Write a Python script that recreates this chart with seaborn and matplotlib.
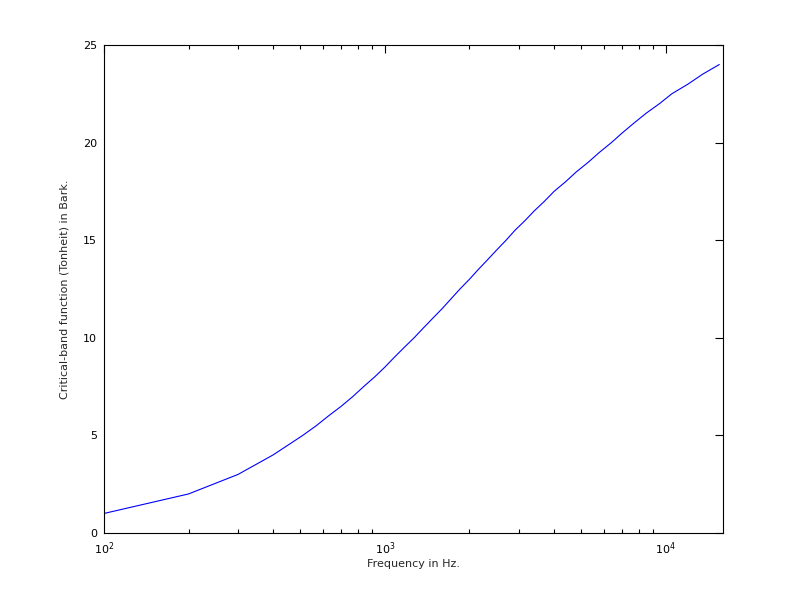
import pandas as pd
import seaborn as sns
import matplotlib.pyplot as plt
import numpy as np

# critical-band rate vs frequency (band edges, plus band centres above 500 Hz)
freq = [100, 200, 300, 400, 510, 570, 630, 700, 770, 840,
        920, 1000, 1080, 1170, 1270, 1370, 1480, 1600, 1720, 1850, 2000, 2150,
        2320, 2500, 2700, 2900, 3150, 3400, 3700, 4000, 4400, 4800, 5300, 5800,
        6400, 7000, 7700, 8500, 9500, 10500, 12000, 13500, 15500]
bark = [1, 2, 3, 4, 5, 5.5, 6, 6.5, 7, 7.5, 8, 8.5, 9, 9.5,
        10, 10.5, 11, 11.5, 12, 12.5, 13, 13.5, 14, 14.5, 15, 15.5, 16, 16.5,
        17, 17.5, 18, 18.5, 19, 19.5, 20, 20.5, 21, 21.5, 22, 22.5, 23, 23.5, 24]

df = pd.DataFrame({"freq": freq, "bark": bark})

sns.set_theme(style="white")
plt.rcParams['font.family'] = ['DejaVu Sans']

fig = plt.figure(figsize=(8, 6), dpi=100)
ax = fig.add_axes([0.13, 0.1117, 0.774, 0.8133])
sns.lineplot(data=df, x="freq", y="bark", ax=ax, color="#0000ff", linewidth=0.8)
ax.set_xscale("log")
ax.set_xlim(100, 16000)
ax.set_ylim(0, 25)
ax.set_yticks([0, 5, 10, 15, 20, 25])
ax.tick_params(which="both", direction="in", top=True, right=True, labelsize=8, colors="black")
ax.tick_params(which="major", length=6, width=0.8, pad=5)
ax.tick_params(which="minor", length=3, width=0.8, bottom=True, top=True)
for s in ax.spines.values():
    s.set_color("black")
    s.set_linewidth(0.8)
ax.set_xlabel("Frequency in Hz.", fontsize=8, labelpad=2)
ax.set_ylabel("Critical-band function (Tonheit) in Bark.", fontsize=8, labelpad=10)
fig.savefig("out.png", dpi=100)
